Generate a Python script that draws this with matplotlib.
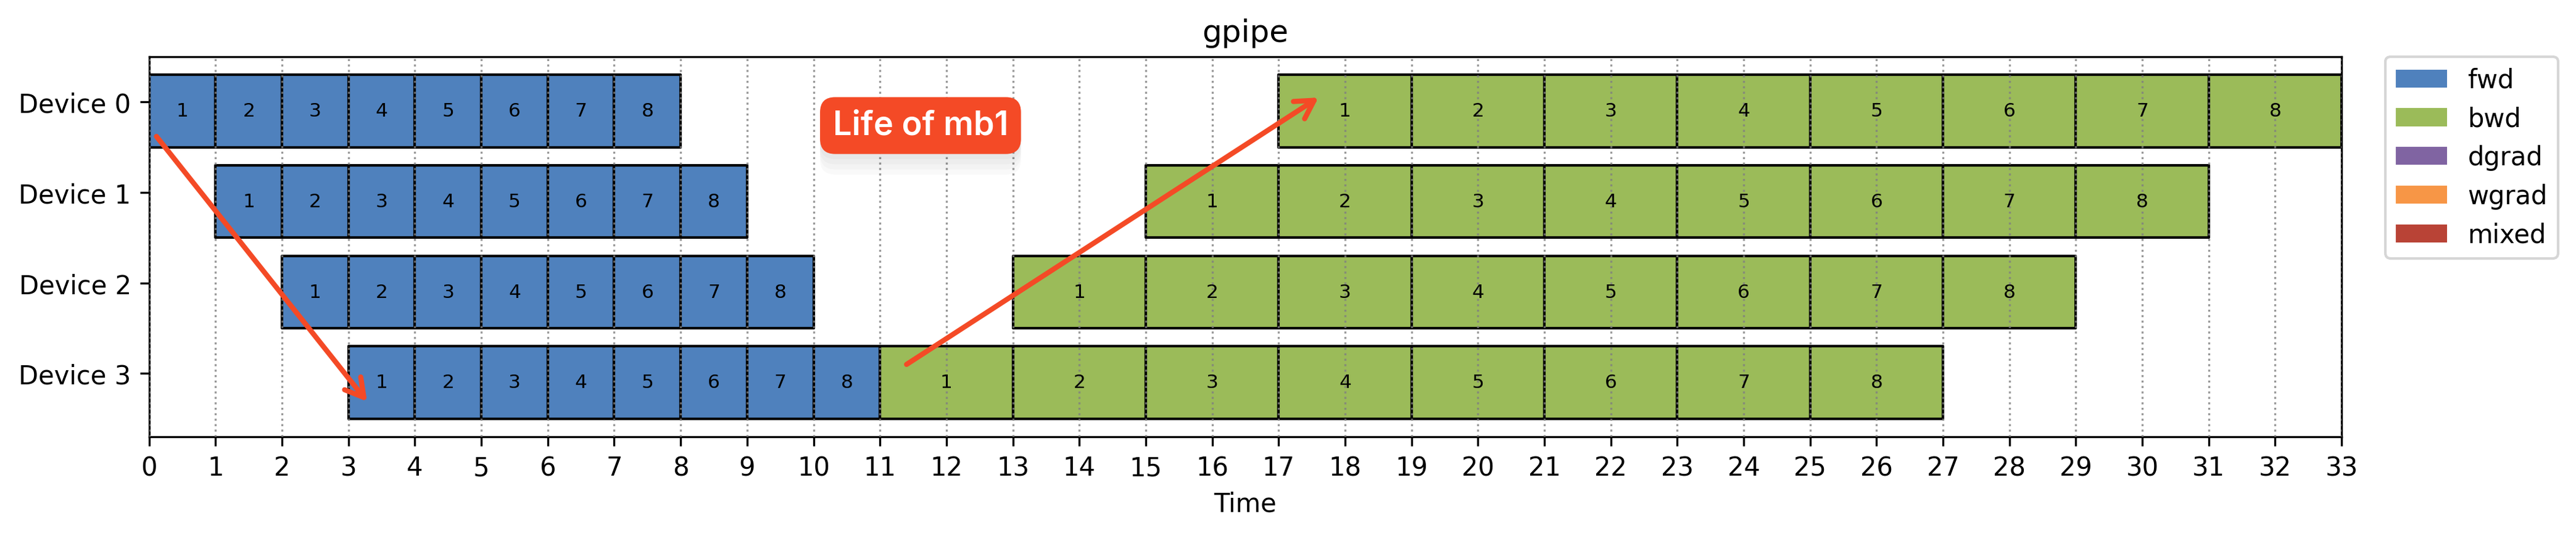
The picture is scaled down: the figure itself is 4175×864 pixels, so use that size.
import matplotlib
matplotlib.use('Agg')
import matplotlib.pyplot as plt
from matplotlib import patheffects
from matplotlib.patches import Patch

# schedule data (gpipe, 4 devices, 8 micro-batches)
devices = ['Device 0', 'Device 1', 'Device 2', 'Device 3']
microbatches = [1, 2, 3, 4, 5, 6, 7, 8]
fwd_start = [0, 1, 2, 3]          # first fwd start per device
fwd_dur = 1
bwd_start = [17, 15, 13, 11]      # first bwd start per device
bwd_dur = 2

legend_labels = ['fwd', 'bwd', 'dgrad', 'wgrad', 'mixed']
legend_colors = ['#4f81bd', '#9bbb59', '#8064a2', '#f79646', '#b94336']

# arrows for "Life of mb1" (data coords)
arrow_fwd = [(0.11, 0.38), (3.28, 3.31)]
arrow_bwd = [(11.40, 2.90), (17.60, -0.05)]
accent = '#f44a26'

fig = plt.figure(figsize=(13.917, 2.883), dpi=300)
ax = fig.add_axes([0.0579, 0.1803, 0.8511, 0.7122])

for d, name in enumerate(devices):
    for k, mb in enumerate(microbatches):
        s = fwd_start[d] + k * fwd_dur
        ax.broken_barh([(s, fwd_dur)], (d - 0.3, 0.8), facecolors=legend_colors[0],
                       edgecolor='black', linewidth=1)
        ax.text(s + fwd_dur / 2, d + 0.1, str(mb), ha='center', va='center', fontsize=7.5, zorder=4)
        s = bwd_start[d] + k * bwd_dur
        ax.broken_barh([(s, bwd_dur)], (d - 0.3, 0.8), facecolors=legend_colors[1],
                       edgecolor='black', linewidth=1)
        ax.text(s + bwd_dur / 2, d + 0.1, str(mb), ha='center', va='center', fontsize=7.5, zorder=4)

ax.set_xlim(0, 33)
ax.set_ylim(3.7, -0.5)
ax.set_xticks(range(0, 34))
ax.set_yticks(range(len(devices)))
ax.set_yticklabels(devices)
ax.set_xlabel('Time')
ax.set_title('gpipe')
ax.set_axisbelow(False)
ax.grid(axis='x', linestyle=':', color='gray', linewidth=0.8, alpha=0.8)

handles = [Patch(facecolor=c, label=l) for c, l in zip(legend_colors, legend_labels)]
ax.legend(handles=handles, loc='upper left', bbox_to_anchor=(1.02, 1), borderaxespad=0)

for (x0, y0), (x1, y1) in [arrow_fwd, arrow_bwd]:
    ax.annotate('', xy=(x1, y1), xytext=(x0, y0),
                arrowprops=dict(arrowstyle='->,head_length=0.7,head_width=0.4', color=accent,
                                lw=2, shrinkA=0, shrinkB=0), zorder=5)

t = ax.text(11.61, 0.26, 'Life of mb1', ha='center', va='center', color='white',
            fontsize=13, fontweight='semibold', family=['Inter', 'DejaVu Sans'], zorder=6,
            bbox=dict(boxstyle='round,pad=0.38,rounding_size=0.45', fc=accent, ec='none'))
# soft shadow under the label box
shadows = [patheffects.SimplePatchShadow(offset=(0, -o), shadow_rgbFace='black', alpha=0.025)
           for o in (2, 4, 6, 8)]
t.get_bbox_patch().set_path_effects(shadows + [patheffects.Normal()])

fig.savefig('out.png', dpi=300)
